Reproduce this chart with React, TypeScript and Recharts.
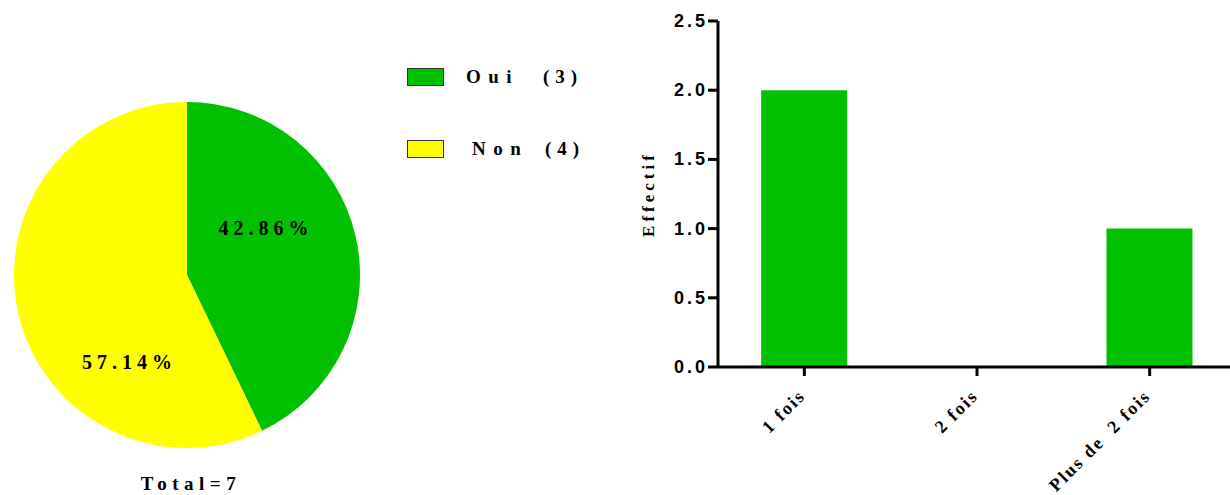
import { PieChart, Pie, Cell, Legend, BarChart, Bar, XAxis, YAxis } from "recharts";

const answerNames = ["Oui", "Non"];
const answerCounts = [3, 4];
const answerColors = ["#00c000", "#ffff00"];

const freqCategories = ["1 fois", "2 fois", "Plus de  2 fois"];
const freqValues = [2, 0, 1];
const yTicks = [0, 0.5, 1, 1.5, 2, 2.5];

const SERIF = "'Liberation Serif', 'Times New Roman', serif";
const SANS = "'Liberation Sans', Arial, sans-serif";

const pieData = answerNames.map((name, i) => ({ name, value: answerCounts[i] }));
const barData = freqCategories.map((name, i) => ({ name, value: freqValues[i] }));
const total = answerCounts.reduce((a, b) => a + b, 0);

// label placement inside each slice, as fraction of the radius
const LABEL_NUDGE = [
  { dx: 0.44, dy: -0.27 },
  { dx: -0.35, dy: 0.5 },
];

function PieLabel(props: any) {
  const { cx, cy, outerRadius, index, value } = props;
  const n = LABEL_NUDGE[index] ?? { dx: 0, dy: 0 };
  const pct = ((value / total) * 100).toFixed(2) + "%";
  return (
    <text
      x={cx + n.dx * outerRadius + 3}
      y={cy + n.dy * outerRadius}
      textAnchor="middle"
      dominantBaseline="central"
      style={{ fontFamily: SERIF, fontWeight: 700, fontSize: 20, letterSpacing: 5 }}
      fill="#000"
    >
      {pct}
    </text>
  );
}

function PieLegend() {
  return (
    <div style={{ fontFamily: SERIF, fontWeight: 700, fontSize: 19, color: "#000", lineHeight: "18px" }}>
      {pieData.map((d, i) => (
        <div key={d.name} style={{ display: "flex", alignItems: "center", height: 18, marginBottom: i === 0 ? 54 : 0 }}>
          <span style={{ display: "inline-block", width: 37, height: 18, background: answerColors[i], border: "1px solid #333", boxSizing: "border-box" }} />
          <span style={{ marginLeft: i === 0 ? 22 : 28, letterSpacing: 7.5, whiteSpace: "pre", width: i === 0 ? 77 : 73, display: "inline-block" }}>{d.name}</span>
          <span style={{ letterSpacing: 6 }}>({d.value})</span>
        </div>
      ))}
    </div>
  );
}

function YTick(props: any) {
  const { x, y, payload } = props;
  return (
    <text x={x + 2} y={y} textAnchor="end" dominantBaseline="central" fill="#000"
      style={{ fontFamily: SANS, fontWeight: 700, fontSize: 18, letterSpacing: 3 }}>
      {Number(payload.value).toFixed(1)}
    </text>
  );
}

function XTick(props: any) {
  const { x, y, payload } = props;
  const ax = x + 2;
  const ay = y + 19;
  return (
    <text x={ax} y={ay} textAnchor="end" transform={`rotate(-45, ${ax}, ${ay})`} fill="#000"
      style={{ fontFamily: SERIF, fontWeight: 700, fontSize: 18, letterSpacing: 2, whiteSpace: "pre" }}>
      {payload.value}
    </text>
  );
}

export default function App() {
  return (
    <div style={{ position: "absolute", left: 0, top: 0, width: 1230, height: 495, overflow: "hidden", background: "#fff" }}>
      <div style={{ position: "absolute", left: 0, top: 0 }}>
        <PieChart width={600} height={495} margin={{ top: 0, right: 0, bottom: 0, left: 0 }}>
          <Pie
            data={pieData}
            dataKey="value"
            nameKey="name"
            cx={187}
            cy={275}
            outerRadius={173}
            startAngle={90}
            endAngle={-270}
            stroke="none"
            label={PieLabel}
            labelLine={false}
            isAnimationActive={false}
          >
            {pieData.map((d, i) => (
              <Cell key={d.name} fill={answerColors[i]} />
            ))}
          </Pie>
          <Legend content={<PieLegend />} wrapperStyle={{ position: "absolute", left: 407, top: 68, width: 220 }} />
          <text x={191} y={490} textAnchor="middle" fill="#000"
            style={{ fontFamily: SERIF, fontWeight: 700, fontSize: 19, letterSpacing: 5.5 }}>
            Total={total}
          </text>
        </PieChart>
      </div>
      <div style={{ position: "absolute", left: 600, top: 0 }}>
        <BarChart width={640} height={495} data={barData} margin={{ top: 21, right: 4, bottom: 8, left: 0 }} barCategoryGap="25%">
          <XAxis
            dataKey="name"
            height={120}
            axisLine={{ stroke: "#000", strokeWidth: 3 }}
            tickLine={{ stroke: "#000", strokeWidth: 3 }}
            tickSize={9}
            tick={<XTick />}
            interval={0}
          />
          <YAxis
            width={118}
            domain={[0, 2.5]}
            ticks={yTicks}
            axisLine={{ stroke: "#000", strokeWidth: 3 }}
            tickLine={{ stroke: "#000", strokeWidth: 3 }}
            tickSize={10}
            tick={<YTick />}
            label={{
              value: "Effectif",
              angle: -90,
              position: "insideLeft",
              offset: 48,
              style: { fontFamily: SERIF, fontWeight: 700, fontSize: 17, letterSpacing: 4, fill: "#000", textAnchor: "middle" },
            }}
          />
          <Bar dataKey="value" fill="#00c000" isAnimationActive={false} />
        </BarChart>
      </div>
    </div>
  );
}
